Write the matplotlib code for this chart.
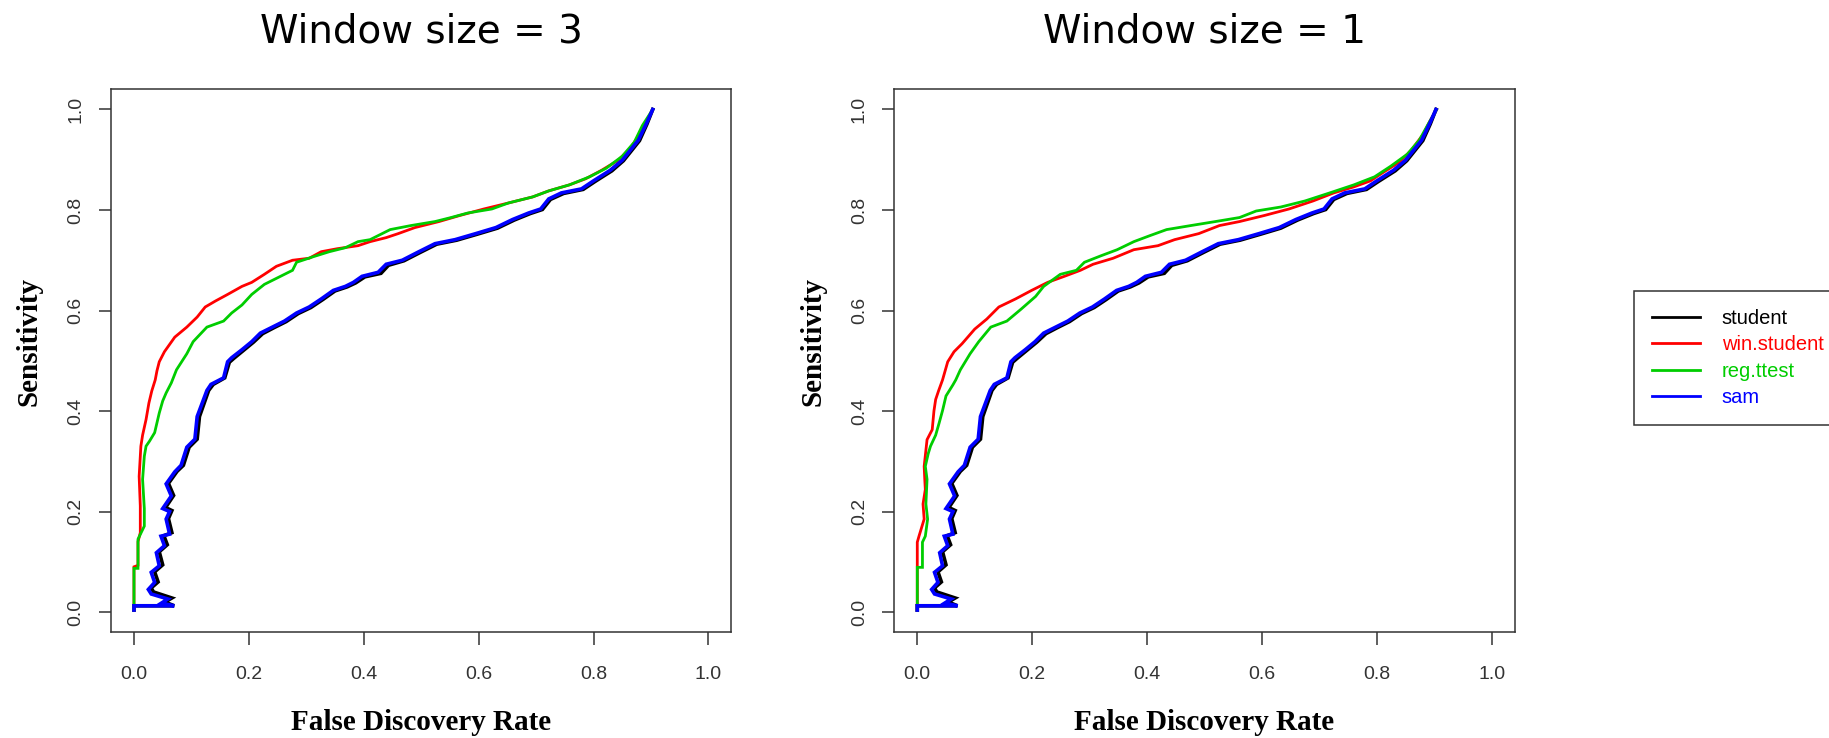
import numpy as np
import matplotlib.pyplot as plt

# sam and student do not depend on the window size, same curve in both panels
sam_fdr = [0, 0, 0.070, 0.048, 0.059, 0.030, 0.025, 0.036, 0.030, 0.044,
           0.039, 0.053, 0.047, 0.062, 0.056, 0.062, 0.050, 0.065, 0.056, 0.071,
           0.082, 0.092, 0.106, 0.110, 0.127, 0.134, 0.156, 0.163, 0.170, 0.188,
           0.205, 0.220, 0.241, 0.262, 0.283, 0.305, 0.326, 0.347, 0.368, 0.382,
           0.397, 0.425, 0.439, 0.467, 0.496, 0.524, 0.559, 0.595, 0.630, 0.659,
           0.687, 0.708, 0.722, 0.744, 0.779, 0.800, 0.829, 0.850, 0.864, 0.878,
           0.892, 0.903]
sam_sens = [0.004, 0.0125, 0.0125, 0.018, 0.026, 0.036, 0.045, 0.059, 0.079, 0.092,
            0.118, 0.132, 0.151, 0.155, 0.185, 0.200, 0.206, 0.231, 0.255, 0.279,
            0.292, 0.328, 0.344, 0.389, 0.441, 0.453, 0.466, 0.498, 0.506, 0.522,
            0.538, 0.555, 0.567, 0.579, 0.595, 0.607, 0.623, 0.640, 0.648, 0.656,
            0.668, 0.676, 0.692, 0.700, 0.717, 0.733, 0.741, 0.753, 0.765, 0.781,
            0.794, 0.802, 0.822, 0.834, 0.842, 0.858, 0.879, 0.899, 0.919, 0.939,
            0.972, 1.0]

student_fdr = [0, 0, 0.070, 0.054, 0.066, 0.034, 0.030, 0.042, 0.036, 0.050,
               0.044, 0.058, 0.052, 0.066, 0.060, 0.066, 0.055, 0.069, 0.060, 0.075,
               0.086, 0.096, 0.110, 0.114, 0.130, 0.138, 0.158, 0.166, 0.174, 0.191,
               0.208, 0.224, 0.244, 0.265, 0.286, 0.308, 0.329, 0.350, 0.371, 0.386,
               0.402, 0.430, 0.443, 0.470, 0.499, 0.527, 0.562, 0.598, 0.633, 0.662,
               0.690, 0.711, 0.725, 0.748, 0.782, 0.803, 0.832, 0.852, 0.866, 0.880,
               0.893, 0.903]
student_sens = [0.004, 0.0125, 0.0125, 0.020, 0.028, 0.040, 0.048, 0.060, 0.080, 0.094,
                0.120, 0.134, 0.152, 0.158, 0.186, 0.202, 0.208, 0.232, 0.256, 0.280,
                0.292, 0.328, 0.344, 0.389, 0.441, 0.453, 0.466, 0.497, 0.505, 0.521,
                0.537, 0.554, 0.566, 0.578, 0.594, 0.606, 0.622, 0.639, 0.647, 0.655,
                0.667, 0.674, 0.690, 0.699, 0.716, 0.732, 0.740, 0.752, 0.764, 0.780,
                0.793, 0.801, 0.821, 0.833, 0.841, 0.857, 0.878, 0.898, 0.918, 0.938,
                0.971, 1.0]

# window size = 3
win3_fdr = [0, 0, 0.007, 0.007, 0.011, 0.011, 0.009, 0.012, 0.015, 0.021,
            0.026, 0.031, 0.037, 0.040, 0.044, 0.053, 0.071, 0.092, 0.110, 0.124,
            0.142, 0.163, 0.188, 0.205, 0.227, 0.248, 0.276, 0.305, 0.326, 0.354,
            0.390, 0.411, 0.439, 0.460, 0.489, 0.531, 0.567, 0.609, 0.652, 0.694,
            0.722, 0.758, 0.786, 0.814, 0.843, 0.864, 0.878, 0.892, 0.903]
win3_sens = [0.004, 0.090, 0.093, 0.140, 0.158, 0.211, 0.270, 0.330, 0.352, 0.383,
             0.416, 0.440, 0.462, 0.480, 0.498, 0.518, 0.547, 0.567, 0.587, 0.607,
             0.619, 0.632, 0.648, 0.656, 0.672, 0.688, 0.700, 0.704, 0.717, 0.723,
             0.729, 0.737, 0.745, 0.753, 0.765, 0.777, 0.789, 0.802, 0.814, 0.826,
             0.838, 0.850, 0.862, 0.879, 0.899, 0.923, 0.947, 0.976, 1.0]

reg3_fdr = [0, 0, 0.007, 0.007, 0.018, 0.018, 0.015, 0.018, 0.021, 0.027,
            0.036, 0.044, 0.050, 0.056, 0.065, 0.074, 0.092, 0.103, 0.127, 0.156,
            0.170, 0.188, 0.205, 0.227, 0.255, 0.276, 0.283, 0.312, 0.340, 0.368,
            0.390, 0.411, 0.446, 0.482, 0.524, 0.552, 0.581, 0.623, 0.652, 0.694,
            0.722, 0.758, 0.793, 0.822, 0.850, 0.871, 0.885, 0.903]
reg3_sens = [0.004, 0.087, 0.087, 0.145, 0.171, 0.206, 0.264, 0.310, 0.330, 0.340,
             0.357, 0.396, 0.420, 0.436, 0.456, 0.482, 0.514, 0.538, 0.567, 0.579,
             0.595, 0.611, 0.632, 0.652, 0.668, 0.680, 0.696, 0.707, 0.717, 0.725,
             0.737, 0.741, 0.761, 0.769, 0.777, 0.785, 0.794, 0.802, 0.814, 0.826,
             0.838, 0.850, 0.866, 0.883, 0.907, 0.935, 0.968, 1.0]

# window size = 1
win1_fdr = [0, 0, 0.003, 0.012, 0.010, 0.014, 0.013, 0.012, 0.017, 0.026,
            0.029, 0.032, 0.037, 0.044, 0.053, 0.064, 0.078, 0.100, 0.121, 0.142,
            0.171, 0.199, 0.227, 0.256, 0.284, 0.306, 0.341, 0.377, 0.419, 0.448,
            0.490, 0.526, 0.561, 0.604, 0.647, 0.689, 0.725, 0.760, 0.789, 0.810,
            0.839, 0.860, 0.881, 0.892, 0.904]
win1_sens = [0.004, 0.139, 0.151, 0.185, 0.215, 0.244, 0.265, 0.290, 0.343, 0.363,
             0.400, 0.423, 0.440, 0.462, 0.498, 0.518, 0.534, 0.563, 0.583, 0.607,
             0.623, 0.640, 0.656, 0.668, 0.680, 0.692, 0.704, 0.721, 0.729, 0.741,
             0.753, 0.769, 0.777, 0.789, 0.802, 0.818, 0.834, 0.846, 0.858, 0.874,
             0.895, 0.919, 0.951, 0.976, 1.0]

reg1_fdr = [0, 0, 0.009, 0.009, 0.014, 0.018, 0.015, 0.017, 0.014, 0.019,
            0.023, 0.032, 0.038, 0.044, 0.050, 0.062, 0.067, 0.075, 0.092, 0.107,
            0.128, 0.156, 0.181, 0.206, 0.220, 0.249, 0.277, 0.291, 0.320, 0.348,
            0.377, 0.405, 0.434, 0.476, 0.519, 0.561, 0.590, 0.633, 0.675, 0.718,
            0.760, 0.796, 0.824, 0.853, 0.874, 0.888, 0.904]
reg1_sens = [0.004, 0.089, 0.089, 0.139, 0.151, 0.185, 0.215, 0.264, 0.290, 0.315,
             0.330, 0.352, 0.376, 0.401, 0.430, 0.452, 0.462, 0.482, 0.514, 0.538,
             0.567, 0.579, 0.603, 0.628, 0.648, 0.672, 0.680, 0.696, 0.709, 0.721,
             0.737, 0.749, 0.761, 0.769, 0.777, 0.785, 0.798, 0.806, 0.818, 0.834,
             0.850, 0.866, 0.887, 0.911, 0.939, 0.968, 1.0]

labels = ['student', 'win.student', 'reg.ttest', 'sam']
colors = ['#000000', '#FF0000', '#00CD00', '#0000FF']
widths = [2.6, 2.0, 2.0, 2.6]
titles = ['Window size = 3', 'Window size = 1']
ticks = [0.0, 0.2, 0.4, 0.6, 0.8, 1.0]
tick_labels = ['0.0', '0.2', '0.4', '0.6', '0.8', '1.0']

panels = [
    [(student_fdr, student_sens), (win3_fdr, win3_sens), (reg3_fdr, reg3_sens), (sam_fdr, sam_sens)],
    [(student_fdr, student_sens), (win1_fdr, win1_sens), (reg1_fdr, reg1_sens), (sam_fdr, sam_sens)],
]

fig = plt.figure(figsize=(18.29, 7.38), dpi=100)
lefts = [111 / 1829, 894.3 / 1829]

for left, title, curves in zip(lefts, titles, panels):
    ax = fig.add_axes([left, 0.1434, 620.4 / 1829, 542.8 / 738])
    for (x, y), lab, col, lw in zip(curves, labels, colors, widths):
        ax.plot(x, y, color=col, lw=lw, label=lab, solid_joinstyle='miter')
    ax.set_xlim(-0.04, 1.04)
    ax.set_ylim(-0.04, 1.04)
    ax.set_xticks(ticks)
    ax.set_xticklabels(tick_labels, family='Liberation Sans', fontsize=14, color='#333333')
    ax.set_yticks(ticks)
    ax.set_yticklabels(tick_labels, family='Liberation Sans', fontsize=14, color='#333333',
                       rotation=90, va='center')
    ax.tick_params(axis='both', direction='out', length=9, width=1.1, color='#333333')
    ax.tick_params(axis='x', pad=15)
    ax.tick_params(axis='y', pad=10)
    for sp in ax.spines.values():
        sp.set_linewidth(1.1)
        sp.set_color('#333333')
    ax.set_title(title, family='DejaVu Sans', fontsize=28, pad=34)
    ax.set_xlabel('False Discovery Rate', family='Liberation Serif', fontweight='bold', fontsize=21)
    ax.set_ylabel('Sensitivity', family='Liberation Serif', fontweight='bold', fontsize=21)
    ax.xaxis.set_label_coords(0.5, -0.142)
    ax.yaxis.set_label_coords(-0.11, 0.536)

handles = ax.get_lines()
leg = fig.legend(handles, labels, loc='upper left', bbox_to_anchor=(1634 / 1829, 1 - 291 / 738),
                 bbox_transform=fig.transFigure, borderaxespad=0, fancybox=False,
                 frameon=True, framealpha=1, edgecolor='#333333',
                 prop={'family': 'Liberation Sans', 'size': 14.5},
                 handlelength=2.4, handletextpad=1.05, borderpad=0.9, labelspacing=0.36,
                 labelcolor='linecolor')
leg.get_frame().set_linewidth(1.1)
for h in leg.legend_handles:
    h.set_linewidth(2.0)

fig.savefig('out.png', dpi=100)
